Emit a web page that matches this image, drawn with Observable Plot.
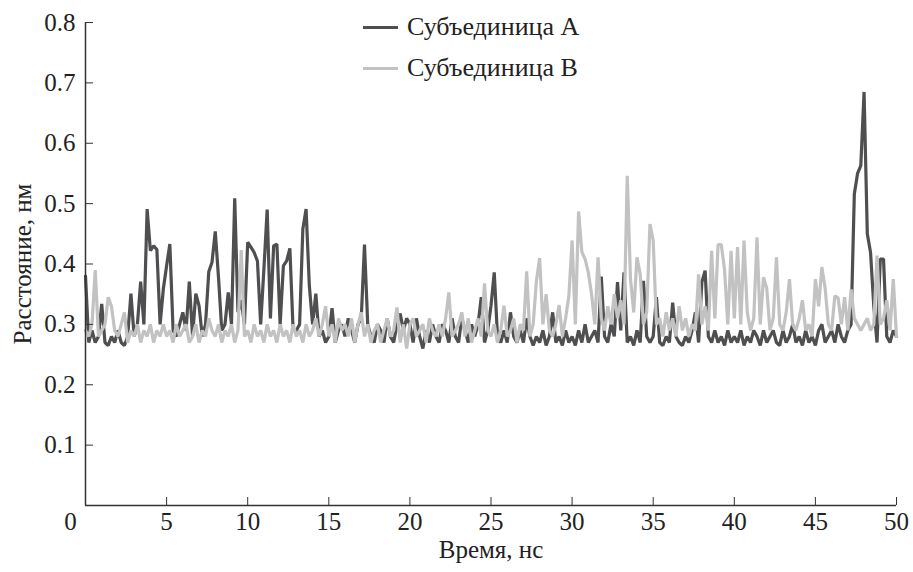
<!DOCTYPE html>
<html>
<head>
<meta charset="utf-8">
<script src="https://cdn.jsdelivr.net/npm/d3@7"></script>
<script src="https://cdn.jsdelivr.net/npm/@observablehq/plot@0.6"></script>
<style>
  body { margin: 0; background: #fff; }
  #wrap { position: relative; width: 913px; height: 572px; font-family: "Liberation Serif", "Tinos", "Times New Roman", "DejaVu Serif", serif; }
  .leg { position: absolute; left: 363px; font-size: 26px; color: #222; display: flex; align-items: center; white-space: nowrap; }
  .leg span.sw { display: inline-block; width: 35px; height: 3px; margin-right: 9px; }
</style>
</head>
<body>
<div id="wrap">
  <div id="chart"></div>
  <div class="leg" style="top:12px"><span class="sw" style="background:#4f4f51"></span>Субъединица А</div>
  <div class="leg" style="top:53px"><span class="sw" style="background:#c2c2c2"></span>Субъединица В</div>
</div>
<script>
// Time step of the sampled trajectories, ns
const timeStep = 0.2;
const seriesNames = ["Субъединица А", "Субъединица В"];

// Subunit A (dark), distance in nm, one value per 0.2 ns from 0 to 50
const subunitA = [
  0.38, 0.27, 0.29, 0.27, 0.28,
  0.334, 0.27, 0.265, 0.28, 0.27,
  0.29, 0.27, 0.265, 0.28, 0.351,
  0.28, 0.30, 0.371, 0.30, 0.491,
  0.422, 0.43, 0.424, 0.30, 0.359,
  0.397, 0.433, 0.29, 0.28, 0.30,
  0.32, 0.29, 0.371, 0.28, 0.351,
  0.331, 0.28, 0.30, 0.387, 0.403,
  0.454, 0.378, 0.29, 0.30, 0.353,
  0.30, 0.509, 0.32, 0.34, 0.30,
  0.436, 0.428, 0.419, 0.405, 0.30,
  0.392, 0.49, 0.31, 0.43, 0.433,
  0.30, 0.397, 0.405, 0.426, 0.29,
  0.29, 0.30, 0.458, 0.491, 0.364,
  0.30, 0.351, 0.28, 0.29, 0.27,
  0.28, 0.327, 0.27, 0.29, 0.30,
  0.28, 0.31, 0.29, 0.27, 0.30,
  0.31, 0.432, 0.30, 0.28, 0.27,
  0.30, 0.29, 0.27, 0.31, 0.28,
  0.27, 0.30, 0.318, 0.29, 0.31,
  0.30, 0.27, 0.31, 0.28, 0.26,
  0.29, 0.27, 0.30, 0.28, 0.27,
  0.30, 0.29, 0.27, 0.31, 0.28,
  0.27, 0.31, 0.29, 0.27, 0.30,
  0.28, 0.30, 0.345, 0.27, 0.29,
  0.331, 0.386, 0.28, 0.27, 0.29,
  0.27, 0.32, 0.28, 0.27, 0.29,
  0.27, 0.31, 0.28, 0.265, 0.28,
  0.27, 0.29, 0.265, 0.28, 0.32,
  0.27, 0.28, 0.265, 0.29, 0.27,
  0.28, 0.265, 0.29, 0.27, 0.30,
  0.27, 0.28, 0.29, 0.27, 0.379,
  0.28, 0.27, 0.30, 0.28, 0.37,
  0.29, 0.386, 0.27, 0.28, 0.265,
  0.29, 0.27, 0.372, 0.28, 0.27,
  0.28, 0.345, 0.27, 0.265, 0.28,
  0.27, 0.336, 0.28, 0.27, 0.265,
  0.28, 0.27, 0.29, 0.32, 0.27,
  0.37, 0.389, 0.28, 0.27, 0.29,
  0.27, 0.28, 0.265, 0.29, 0.27,
  0.28, 0.27, 0.29, 0.265, 0.28,
  0.27, 0.29, 0.28, 0.265, 0.29,
  0.27, 0.28, 0.29, 0.27, 0.265,
  0.29, 0.27, 0.28, 0.30, 0.27,
  0.28, 0.265, 0.29, 0.27, 0.28,
  0.265, 0.29, 0.30, 0.27, 0.28,
  0.29, 0.27, 0.30, 0.28, 0.27,
  0.29, 0.30, 0.516, 0.55, 0.563,
  0.685, 0.45, 0.419, 0.33, 0.27,
  0.408, 0.408, 0.28, 0.27, 0.29,
  0.28
];

// Subunit B (light), distance in nm, one value per 0.2 ns from 0 to 50
const subunitB = [
  0.29, 0.28, 0.30, 0.39, 0.28,
  0.29, 0.30, 0.345, 0.33, 0.29,
  0.28, 0.30, 0.32, 0.27, 0.29,
  0.28, 0.30, 0.27, 0.29, 0.28,
  0.30, 0.27, 0.29, 0.28, 0.30,
  0.28, 0.29, 0.27, 0.30, 0.28,
  0.29, 0.30, 0.27, 0.28, 0.30,
  0.27, 0.29, 0.28, 0.31, 0.29,
  0.28, 0.30, 0.27, 0.29, 0.28,
  0.30, 0.27, 0.29, 0.423, 0.28,
  0.29, 0.27, 0.30, 0.28, 0.29,
  0.27, 0.30, 0.28, 0.29, 0.27,
  0.30, 0.28, 0.29, 0.27, 0.30,
  0.28, 0.29, 0.27, 0.30, 0.28,
  0.29, 0.31, 0.28, 0.30, 0.33,
  0.28, 0.30, 0.27, 0.31, 0.29,
  0.30, 0.28, 0.31, 0.27, 0.30,
  0.32, 0.28, 0.30, 0.27, 0.29,
  0.30, 0.27, 0.29, 0.31, 0.28,
  0.29, 0.328, 0.27, 0.30, 0.26,
  0.30, 0.31, 0.28, 0.29, 0.30,
  0.27, 0.31, 0.29, 0.28, 0.30,
  0.28, 0.31, 0.353, 0.28, 0.29,
  0.30, 0.32, 0.28, 0.31, 0.27,
  0.29, 0.31, 0.28, 0.368, 0.29,
  0.28, 0.30, 0.27, 0.29, 0.331,
  0.28, 0.29, 0.31, 0.27, 0.30,
  0.29, 0.388, 0.28, 0.30, 0.372,
  0.41, 0.30, 0.35, 0.29, 0.28,
  0.30, 0.332, 0.28, 0.31, 0.347,
  0.439, 0.30, 0.487, 0.42, 0.408,
  0.386, 0.35, 0.30, 0.411, 0.31,
  0.29, 0.33, 0.30, 0.35, 0.31,
  0.34, 0.30, 0.546, 0.375, 0.32,
  0.411, 0.383, 0.30, 0.32, 0.466,
  0.439, 0.30, 0.31, 0.28, 0.32,
  0.29, 0.31, 0.28, 0.33, 0.29,
  0.31, 0.28, 0.30, 0.29, 0.383,
  0.30, 0.33, 0.29, 0.422, 0.31,
  0.432, 0.432, 0.39, 0.30, 0.422,
  0.31, 0.428, 0.30, 0.439, 0.32,
  0.29, 0.31, 0.444, 0.30, 0.378,
  0.36, 0.29, 0.31, 0.411, 0.30,
  0.29, 0.32, 0.375, 0.30, 0.29,
  0.31, 0.34, 0.29, 0.30, 0.28,
  0.375, 0.33, 0.395, 0.36, 0.30,
  0.29, 0.347, 0.344, 0.30, 0.345,
  0.29, 0.358, 0.31, 0.30, 0.29,
  0.30, 0.31, 0.29, 0.30, 0.414,
  0.30, 0.31, 0.34, 0.29, 0.375,
  0.28
];

const xTicks = [0, 5, 10, 15, 20, 25, 30, 35, 40, 45, 50];
const yTicks = [0.1, 0.2, 0.3, 0.4, 0.5, 0.6, 0.7, 0.8];
const xLabel = "Время, нс";
const yLabel = "Расстояние, нм";

const rowsA = subunitA.map((v, i) => ({t: i * timeStep, v}));
const rowsB = subunitB.map((v, i) => ({t: i * timeStep, v}));

const serif = "'Liberation Serif', Tinos, 'Times New Roman', 'DejaVu Serif', serif";

const chart = Plot.plot({
  width: 913,
  height: 572,
  marginLeft: 85,
  marginRight: 17,
  marginTop: 22,
  marginBottom: 67,
  x: {domain: [0, 50]},
  y: {domain: [0, 0.8]},
  style: {fontFamily: serif, fontSize: "25px", color: "#222", background: "#fff"},
  marks: [
    Plot.lineY(rowsA, {x: "t", y: "v", stroke: "#4f4f51", strokeWidth: 3.2, strokeLinejoin: "miter"}),
    Plot.lineY(rowsB, {x: "t", y: "v", stroke: "#c2c2c2", strokeWidth: 3.2, strokeLinejoin: "miter"}),
    Plot.ruleX([0], {y1: 0, y2: 0.8, stroke: "#333", strokeWidth: 1.5}),
    Plot.ruleY([0], {stroke: "#333", strokeWidth: 1.5}),
    Plot.axisX({ticks: xTicks.filter(d => d > 0), tickSize: -8, tickPadding: 15, label: null, stroke: "#333", fontFamily: serif}),
    Plot.text([xTicks[0]], {x: d => d, frameAnchor: "bottom", lineAnchor: "top", dy: 7, dx: -15, fill: "#222", fontFamily: serif}),
    Plot.axisY({ticks: yTicks, tickSize: -8, tickPadding: 18, label: null, tickFormat: d => d.toFixed(1), stroke: "#333", fontFamily: serif}),
    Plot.text([xLabel], {frameAnchor: "bottom", dy: 52, fill: "#222", fontFamily: serif}),
    Plot.text([yLabel], {frameAnchor: "left", y: 0.4, dx: -63, rotate: -90, textAnchor: "middle", fill: "#222", fontFamily: serif})
  ]
});
document.getElementById("chart").appendChild(chart);
</script>
</body>
</html>
